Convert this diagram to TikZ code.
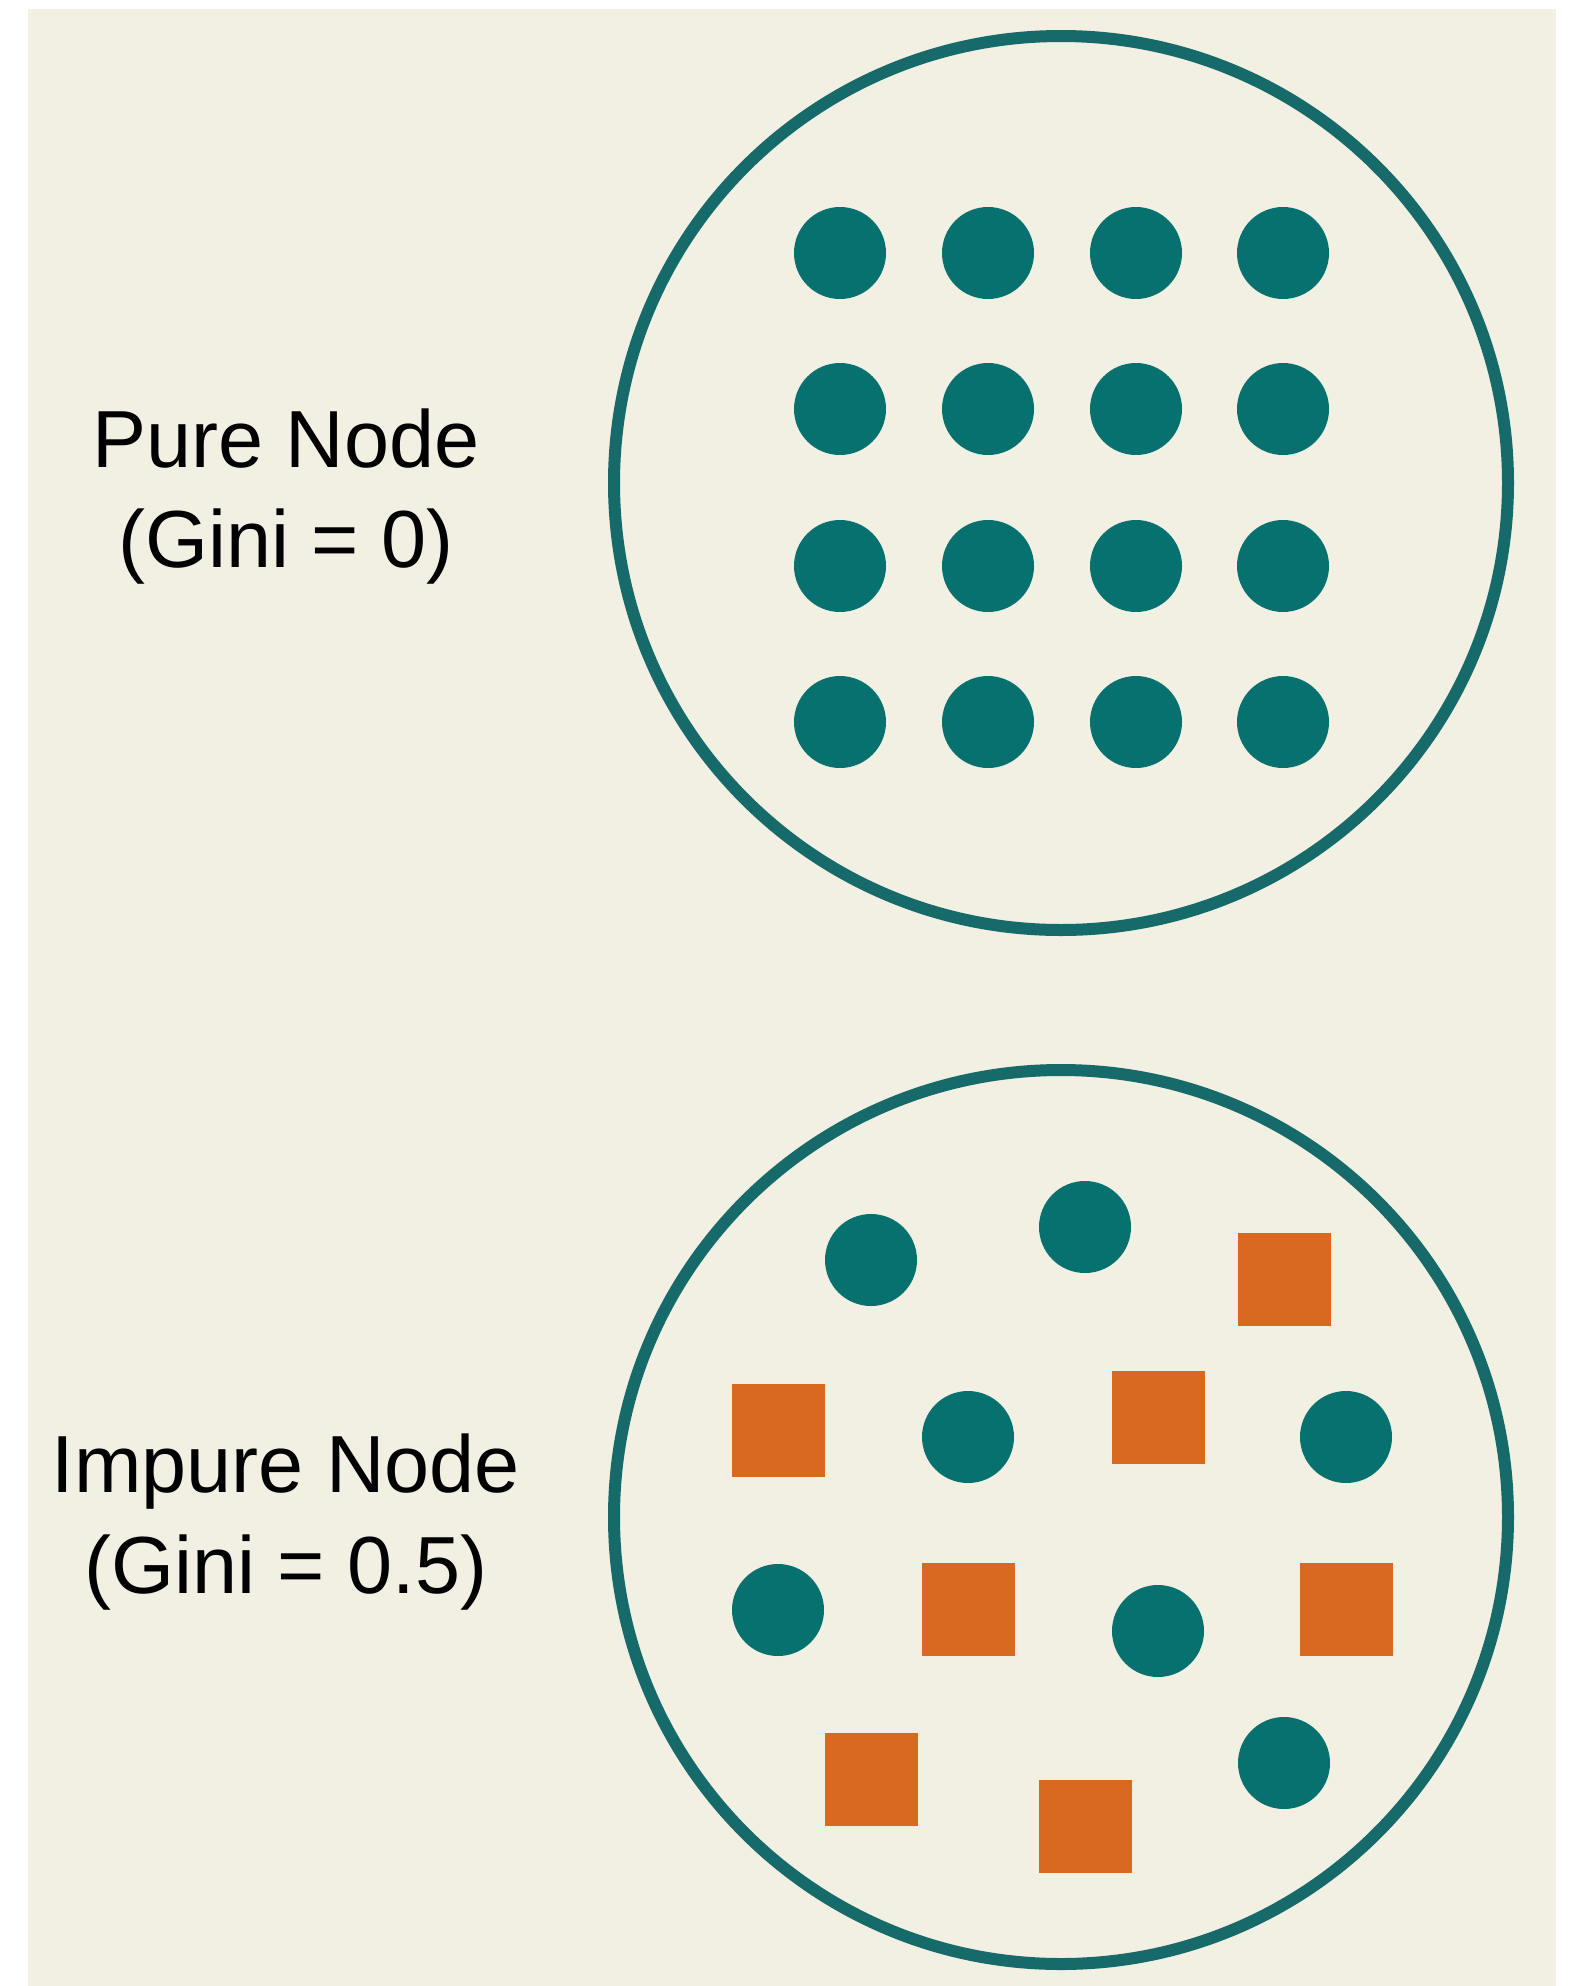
\documentclass[tikz,border=0pt]{standalone}
\usepackage{fontspec}
\setmainfont{Liberation Sans}
\definecolor{bgcream}{HTML}{F2EFE3}
\definecolor{ringteal}{HTML}{176A6A}
\definecolor{dotteal}{HTML}{06716F}
\definecolor{sqorange}{HTML}{D96920}
\tikzset{
  ringnode/.style={circle, draw=ringteal, line width=6pt, minimum size=447pt, inner sep=0pt},
  dotnode/.style={circle, fill=dotteal, minimum size=46pt, inner sep=0pt},
  sqnode/.style={rectangle, fill=sqorange, minimum size=46.5pt, inner sep=0pt},
  lbl/.style={anchor=base, inner sep=0pt, font=\fontsize{40.5pt}{50pt}\selectfont, text=black}
}
\begin{document}
\begin{tikzpicture}[x=0.5pt,y=-0.5pt]
\useasboundingbox (0,0) rectangle (1573,1986);
\fill[white] (0,0) rectangle (1573,1986);
\fill[bgcream] (28,9) rectangle (1556,1986);
% top ring
\node[ringnode] (ringTop) at (1061,483) {};
\foreach \c [count=\i] in {840,988,1136,1283}{
  \foreach \r [count=\j] in {253,409,566,722}{
    \node[dotnode] (d\i\j) at (\c,\r) {};
  }
}
% labels
\node[lbl] (pureA) at (286,467) {Pure Node};
\node[lbl] (pureB) at (286,567) {(Gini = 0)};
\node[lbl] (impA) at (286,1492) {Impure Node};
\node[lbl] (impB) at (286,1593) {(Gini = 0.5)};
% bottom ring
\node[ringnode] (ringBot) at (1061,1517) {};
\node[dotnode] (c1) at (871,1260) {};
\node[dotnode] (c2) at (1085,1227) {};
\node[sqnode] (s1) at (1284,1279) {};
\node[sqnode] (s2) at (778,1430) {};
\node[dotnode] (c3) at (968,1437) {};
\node[sqnode] (s3) at (1158,1417) {};
\node[dotnode] (c4) at (1346,1437) {};
\node[dotnode] (c5) at (778,1610) {};
\node[sqnode] (s4) at (968,1609) {};
\node[dotnode] (c6) at (1158,1631) {};
\node[sqnode] (s5) at (1346,1609) {};
\node[sqnode] (s6) at (871,1779) {};
\node[sqnode] (s7) at (1085,1826) {};
\node[dotnode] (c7) at (1284,1763) {};
\end{tikzpicture}
\end{document}
